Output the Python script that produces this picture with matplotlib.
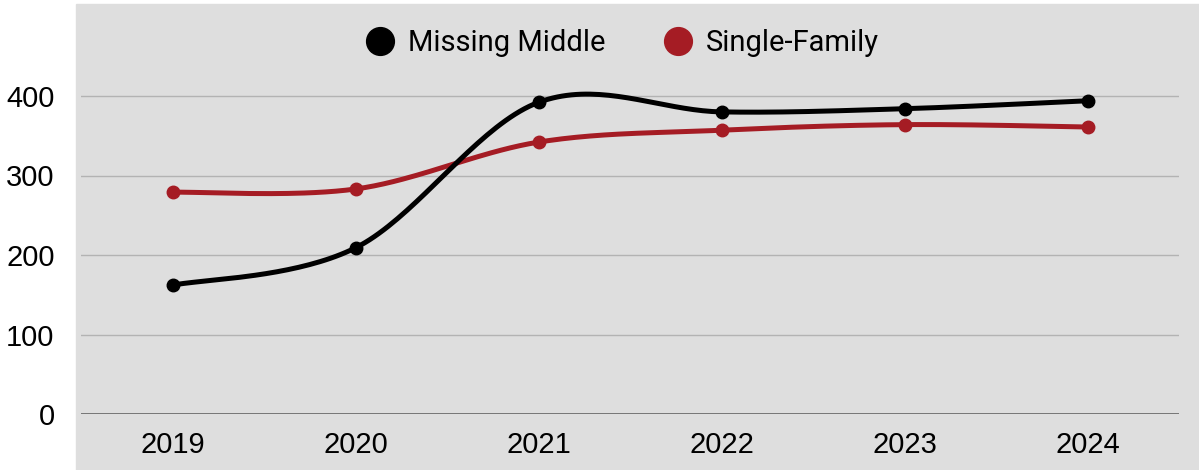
import matplotlib.pyplot as plt
from matplotlib.patches import Rectangle
from matplotlib.lines import Line2D
import numpy as np

# Data
years = ['2019', '2020', '2021', '2022', '2023', '2024']
missing_middle = [162, 209, 392, 380, 384, 394]
single_family = [279, 283, 342, 357, 364, 361]

black = '#000000'
red = '#a51c24'
bg = '#dedede'


def smooth(xs, ys, n=40):
    # Catmull-Rom curve, close to the spreadsheet "smoothed line" look
    xs = np.asarray(xs, float)
    ys = np.asarray(ys, float)
    px = np.concatenate([[xs[0]], xs, [xs[-1]]])
    py = np.concatenate([[ys[0]], ys, [ys[-1]]])
    outx, outy = [], []
    t = np.linspace(0, 1, n)
    for i in range(1, len(px) - 2):
        for p, out in ((px, outx), (py, outy)):
            p0, p1, p2, p3 = p[i - 1], p[i], p[i + 1], p[i + 2]
            seg = 0.5 * (2 * p1 + (-p0 + p2) * t
                         + (2 * p0 - 5 * p1 + 4 * p2 - p3) * t ** 2
                         + (-p0 + 3 * p1 - 3 * p2 + p3) * t ** 3)
            out.extend(seg)
    return np.array(outx), np.array(outy)


fig = plt.figure(figsize=(11.99, 4.70), dpi=100)
fig.patches.append(Rectangle((76 / 1199, 0), 1, (470 - 4) / 470,
                             transform=fig.transFigure, color=bg, zorder=-5))

ax = fig.add_axes([81 / 1199, 56 / 470, 1098 / 1199, 397.5 / 470])
ax.set_facecolor('none')
ax.set_zorder(2)

x = np.arange(len(years))
for vals, col in ((single_family, red), (missing_middle, black)):
    sx, sy = smooth(x, vals)
    ax.plot(sx, sy, color=col, lw=3.6, solid_capstyle='round', zorder=3)
    ax.plot(x, vals, 'o', color=col, ms=9, zorder=4)

ax.set_xlim(-0.5, len(years) - 0.5)
ax.set_ylim(0, 500)
ax.set_yticks([0, 100, 200, 300, 400])
ax.set_xticks(x)
ax.set_xticklabels(years)
for s in ax.spines.values():
    s.set_visible(False)
ax.yaxis.grid(True, color='#b3b3b3', lw=1)
ax.set_axisbelow(True)
ax.axhline(0, color='#6e6e6e', lw=1.3, zorder=2)
ax.tick_params(length=0, labelsize=21)
ax.tick_params(axis='y', pad=19)
ax.tick_params(axis='x', pad=12)
for lab in ax.get_xticklabels() + ax.get_yticklabels():
    lab.set_fontfamily('Liberation Sans')

handles = [Line2D([], [], ls='none', marker='o', ms=20, color=black),
           Line2D([], [], ls='none', marker='o', ms=20, color=red)]
fig.legend(handles, ['Missing Middle', 'Single-Family'], loc='center',
           bbox_to_anchor=(622 / 1199, 1 - 43 / 470), ncol=2, frameon=False,
           prop={'family': 'Roboto', 'size': 21}, handletextpad=0.45,
           columnspacing=2.0, handlelength=1.0)

fig.savefig('out.png', dpi=100)
